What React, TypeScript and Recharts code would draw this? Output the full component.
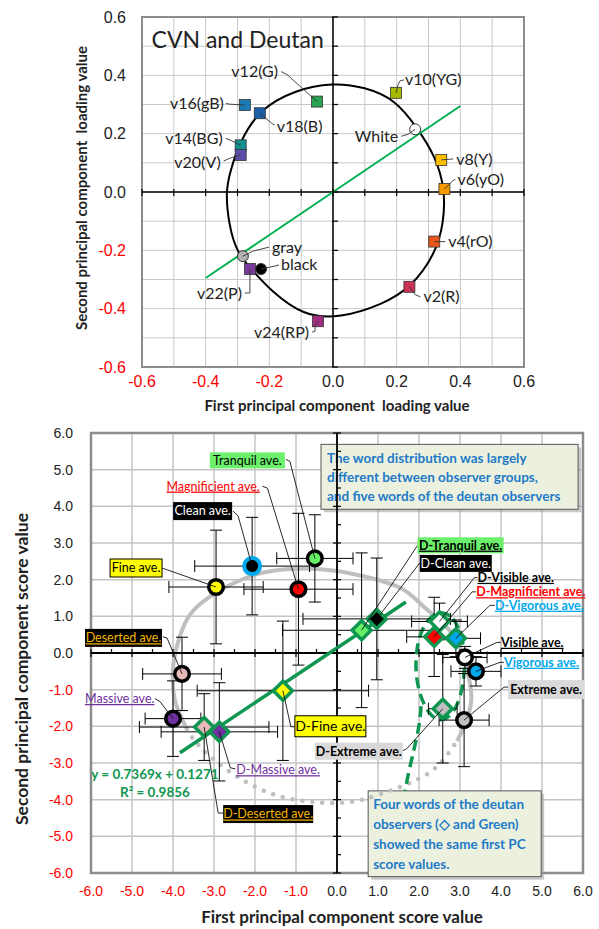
import React from 'react';
import {
  ComposedChart,
  Scatter,
  Line,
  XAxis,
  YAxis,
  CartesianGrid,
  ReferenceLine,
  ReferenceArea,
  ReferenceDot,
  ErrorBar,
  Label
} from 'recharts';

// ---------- top chart: loading values ----------
const loadingTicks = [-0.6, -0.5, -0.4, -0.3, -0.2, -0.1, 0, 0.1, 0.2, 0.3, 0.4, 0.5, 0.6];

const hueNames = ['v2(R)', 'v4(rO)', 'v6(yO)', 'v8(Y)', 'v10(YG)', 'v12(G)', 'v14(BG)', 'v16(gB)', 'v18(B)', 'v20(V)', 'v22(P)', 'v24(RP)'];
const hueX = [0.24, 0.318, 0.35, 0.34, 0.198, -0.05, -0.29, -0.277, -0.23, -0.29, -0.261, -0.047];
const hueY = [-0.325, -0.17, 0.01, 0.11, 0.34, 0.31, 0.16, 0.298, 0.27, 0.127, -0.264, -0.443];

const achroNames = ['White', 'gray', 'black'];
const achroX = [0.258, -0.283, -0.226];
const achroY = [0.215, -0.22, -0.264];

// hand-traced ring and the green line of the loading plot
const loadingRing = [
  [0.0, 0.375], [0.1, 0.36], [0.195, 0.318], [0.265, 0.22], [0.322, 0.122], [0.352, 0.01],
  [0.348, -0.106], [0.322, -0.212], [0.245, -0.328], [0.157, -0.385], [0.022, -0.433],
  [-0.094, -0.425], [-0.198, -0.335], [-0.243, -0.28], [-0.303, -0.21], [-0.328, -0.106],
  [-0.337, 0.0], [-0.324, 0.068], [-0.293, 0.172], [-0.232, 0.283], [-0.12, 0.35]
];
const loadingLine = [[-0.4, -0.295], [0.4, 0.295]];

// ---------- bottom chart: score values ----------
const scoreTicks = [-6, -5, -4, -3, -2, -1, 0, 1, 2, 3, 4, 5, 6];
const scoreHalfTicks = [-5.5, -4.5, -3.5, -2.5, -1.5, -0.5, 0.5, 1.5, 2.5, 3.5, 4.5, 5.5];

const cvnNames = ['Fine ave.', 'Clean ave.', 'Magnificient ave.', 'Tranquil ave.', 'Deserted ave.', 'Massive ave.', 'Visible ave.', 'Vigorous ave.', 'Extreme ave.'];
const cvnX = [-2.95, -2.07, -0.94, -0.54, -3.78, -4.0, 3.12, 3.39, 3.1];
const cvnY = [1.8, 2.37, 1.74, 2.58, -0.57, -1.79, -0.12, -0.5, -1.83];
const cvnErrX = [1.15, 1.4, 1.33, 0.93, 0.96, 0.68, 0.54, 0.61, 0.61];
const cvnErrY = [1.55, 1.33, 2.07, 1.19, 1.0, 1.03, 0.3, 0.4, 1.27];

const deutanNames = ['D-Fine ave.', 'D-Deserted ave.', 'D-Massive ave.', 'D-Tranquil ave.', 'D-Clean ave.', 'D-Visible ave.', 'D-Magnificient ave.', 'D-Vigorous ave.', 'D-Extreme ave.'];
const deutanX = [-1.32, -3.24, -2.87, 0.6, 0.97, 2.5, 2.37, 2.9, 2.58];
const deutanY = [-1.03, -2.02, -2.15, 0.62, 0.93, 0.86, 0.44, 0.4, -1.52];
const deutanErrX = [2.09, 1.58, 1.42, 1.93, 1.8, 0.68, 0.67, 0.6, 0.35];
const deutanErrY = [1.9, 0.91, 1.34, 2.11, 1.66, 0.5, 1.08, 0.5, 1.48];

// regression line ends, gray ring (solid top / dotted bottom), dashed green loop
const fitLine = [[-3.83, -2.72], [1.68, 1.39]];
const grayArc = [
  [-3.66, -2.07], [-3.95, -1.3], [-4.0, -0.4], [-3.85, 0.4], [-3.55, 1.1], [-2.9, 1.68],
  [-1.95, 2.15], [-0.98, 2.3], [-0.1, 2.25], [0.7, 2.08], [1.54, 1.78], [2.05, 1.33],
  [2.65, 0.73], [3.0, 0.15], [3.22, -0.7], [3.27, -1.35], [3.12, -1.95], [2.93, -2.4]
];
const grayDots = [
  [-3.66, -2.07], [-3.34, -2.56], [-2.61, -3.24], [-1.71, -3.79], [-0.9, -4.02], [-0.17, -4.09],
  [0.63, -4.0], [1.54, -3.65], [2.34, -3.19], [2.83, -2.56], [2.93, -2.4]
];
const greenLoop = [
  [2.55, 1.16], [2.84, 0.98], [3.05, 0.5], [3.13, -0.2], [3.08, -0.9], [2.92, -1.52], [2.6, -1.9],
  [2.28, -1.74], [2.03, -1.22], [1.9, -0.5], [1.95, 0.3], [2.18, 0.93]
];
const greenTail = [[2.05, -1.45], [1.98, -2.1], [1.78, -3.1], [1.66, -3.76]];

const topNote = ['The word distribution was largely', 'different between observer groups,', 'and five words of the deutan observers'];
const bottomNote = ['Four words of the deutan', 'observers (\u25C7 and Green)', 'showed the same first PC', 'score values.'];

// ---------- styles ----------
const LABEL_FONT = 'Lato, "Noto Sans", sans-serif';
const TICK_FONT = '"Liberation Sans", Arial, sans-serif';
const GREEN = '#0f9650';
const NOTE_BLUE = '#1f7ac8';

const hueColor: Record<string, string> = {
  'v2(R)': '#cc3355', 'v4(rO)': '#e8561c', 'v6(yO)': '#f59a00', 'v8(Y)': '#ffc000',
  'v10(YG)': '#a6b800', 'v12(G)': '#2aa450', 'v14(BG)': '#14908e', 'v16(gB)': '#1b7bb5',
  'v18(B)': '#1c5fa8', 'v20(V)': '#5b4ea6', 'v22(P)': '#7a3c9c', 'v24(RP)': '#a02d80'
};
const achroColor: Record<string, string> = { White: '#ffffff', gray: '#b0b0b0', black: '#000000' };

const wordFill: Record<string, string> = {
  Fine: '#ffff00', Clean: '#000000', Magnificient: '#ff0000', Tranquil: '#66f066',
  Deserted: '#e6b9b8', Massive: '#7030a0', Visible: '#ffffff', Vigorous: '#00a8ec', Extreme: '#bfbfbf'
};
const wordOf = (name: string) => name.replace('D-', '').replace(' ave.', '');

type Look = { bg?: string; edge?: string; color: string; weight: number; underline?: boolean; size?: number };
const looks: Record<string, Look> = {
  yellowBox: { bg: '#ffff00', edge: '#000', color: '#000', weight: 400 },
  yellowBoxBig: { bg: '#ffff00', edge: '#000', color: '#000', weight: 400, size: 14 },
  blackBox: { bg: '#000', color: '#fff', weight: 400 },
  goldOnBlack: { bg: '#000', color: '#f5b400', weight: 400, underline: true },
  greenBox: { bg: '#6cf06c', color: '#000', weight: 400 },
  greenBoxBold: { bg: '#6cf06c', color: '#000', weight: 700, underline: true },
  grayBoxBold: { bg: '#d9d9d9', color: '#000', weight: 700 },
  red: { color: '#ff0000', weight: 400, underline: true },
  redBold: { color: '#ff0000', weight: 700, underline: true },
  purple: { color: '#7030a0', weight: 400, underline: true },
  blueBold: { color: '#00a8ec', weight: 700, underline: true },
  blackBold: { color: '#000', weight: 700, underline: true }
};

// label placement relative to the marker, in pixels
type Note = { lead: number[][]; box?: number[]; at?: number[]; look: string };
const scoreNotes: Record<string, Note> = {
  'Fine ave.': { lead: [[-54, -19]], box: [-106, -28, 52, 18], look: 'yellowBox' },
  'Clean ave.': { lead: [[-14, -50], [-19, -55]], box: [-79, -64, 59, 18], look: 'blackBox' },
  'Magnificient ave.': { lead: [[-31, -101], [-36, -103]], at: [-132, -103], look: 'red' },
  'Tranquil ave.': { lead: [[-25, -97], [-29, -99]], box: [-105, -106, 75, 16], look: 'greenBox' },
  'Deserted ave.': { lead: [[-15, -36], [-19, -37]], box: [-97, -45, 77, 18], look: 'goldOnBlack' },
  'Massive ave.': { lead: [[-13, -17], [-18, -20]], at: [-88, -20], look: 'purple' },
  'D-Massive ave.': { lead: [[11, 36], [16, 37]], at: [17, 38], look: 'purple' },
  'D-Deserted ave.': { lead: [[14, 86], [19, 86]], box: [19, 78, 90, 18], look: 'goldOnBlack' },
  'D-Fine ave.': { lead: [[8, 36], [12, 36]], box: [12, 25, 71, 21], look: 'yellowBoxBig' },
  'D-Extreme ave.': { lead: [[-36, 40], [-40, 42]], box: [-128, 34, 88, 17], look: 'grayBoxBold' },
  'Extreme ave.': { lead: [[40, -33], [44, -33]], box: [44, -40, 76, 19], look: 'grayBoxBold' },
  'Vigorous ave.': { lead: [[24, -9], [28, -9]], at: [28, -9], look: 'blueBold' },
  'Visible ave.': { lead: [[32, -15], [36, -15]], at: [36, -15], look: 'blackBold' },
  'D-Vigorous ave.': { lead: [[34, -33], [39, -33]], at: [39, -33], look: 'blueBold' },
  'D-Magnificient ave.': { lead: [[38, -45], [42, -45]], at: [42, -45], look: 'redBold' },
  'D-Visible ave.': { lead: [[35, -44], [38, -44]], at: [38, -44], look: 'blackBold' },
  'D-Clean ave.': { lead: [[43, -56]], box: [43, -64, 72, 17], look: 'blackBox' },
  'D-Tranquil ave.': { lead: [[56, -85]], box: [56, -93, 86, 16], look: 'greenBoxBold' }
};

type TopNote = { lead: number[][]; at: number[]; anchor: 'start' | 'end' };
const loadingNotes: Record<string, TopNote> = {
  'v12(G)': { lead: [[-30, -27], [-36, -30]], at: [-39, -30], anchor: 'end' },
  'v16(gB)': { lead: [[-16, -1], [-19, -2]], at: [-21, -2], anchor: 'end' },
  'v18(B)': { lead: [[12, 10], [15, 12]], at: [17, 13], anchor: 'start' },
  'v14(BG)': { lead: [[-10, -5], [-15, -7]], at: [-18, -7], anchor: 'end' },
  'v20(V)': { lead: [[-10, 3], [-17, 6]], at: [-20, 7], anchor: 'end' },
  'v10(YG)': { lead: [[2, -8], [4, -12], [8, -13]], at: [9, -13], anchor: 'start' },
  White: { lead: [[-7, 5], [-14, 7]], at: [-17, 7], anchor: 'end' },
  'v8(Y)': { lead: [[12, -1]], at: [15, -1], anchor: 'start' },
  'v6(yO)': { lead: [[8, -8], [11, -10]], at: [13, -10], anchor: 'start' },
  'v4(rO)': { lead: [[11, 0]], at: [14, 0], anchor: 'start' },
  'v2(R)': { lead: [[6, 8], [11, 10]], at: [14, 10], anchor: 'start' },
  'v24(RP)': { lead: [[-3, 4], [-3, 10], [-6, 11]], at: [-9, 11], anchor: 'end' },
  'v22(P)': { lead: [[0, 24], [-5, 24]], at: [-8, 24], anchor: 'end' },
  gray: { lead: [[10, -5], [26, -9]], at: [29, -9], anchor: 'start' },
  black: { lead: [[14, -3], [18, -4]], at: [20, -5], anchor: 'start' }
};

// ---------- data tables ----------
const pairs = (pts: number[][]) => pts.map(([x, y]) => ({ x, y }));
const hueData = hueNames.map((name, i) => ({ name, x: hueX[i], y: hueY[i] }));
const achroData = achroNames.map((name, i) => ({ name, x: achroX[i], y: achroY[i] }));
const cvnData = cvnNames.map((name, i) => ({ name, x: cvnX[i], y: cvnY[i], ex: cvnErrX[i], ey: cvnErrY[i] }));
const deutanData = deutanNames.map((name, i) => ({ name, x: deutanX[i], y: deutanY[i], ex: deutanErrX[i], ey: deutanErrY[i] }));

const loadingXMarks = loadingTicks.map((t) => ({ x: t, y: 0 }));
const loadingYMarks = loadingTicks.map((t) => ({ x: 0, y: t }));
const scoreXMarks = [...scoreTicks.map((t) => ({ x: t, y: 0, major: true })), ...scoreHalfTicks.map((t) => ({ x: t, y: 0, major: false }))];
const scoreYMarks = [...scoreTicks.map((t) => ({ x: 0, y: t, major: true })), ...scoreHalfTicks.map((t) => ({ x: 0, y: t, major: false }))];

// ---------- small renderers ----------
const tickColor = (v: number) => (v < 0 ? '#ff0000' : '#222');
const evenTenth = (v: number) => Math.round(v * 10) % 2 === 0;

const TickX = ({ x, y, payload, size, show }: any) => {
  const v = payload.value;
  if (show && !show(v)) return <g />;
  return (
    <text x={x} y={y} dy="0.71em" textAnchor="middle" fontFamily={TICK_FONT} fontSize={size} fill={tickColor(v)}>
      {v.toFixed(1)}
    </text>
  );
};
const TickY = ({ x, y, payload, size, show }: any) => {
  const v = payload.value;
  if (show && !show(v)) return <g />;
  return (
    <text x={x} y={y} dy="0.35em" textAnchor="end" fontFamily={TICK_FONT} fontSize={size} fill={tickColor(v)}>
      {v.toFixed(1)}
    </text>
  );
};

const leadPath = (cx: number, cy: number, lead: number[][]) =>
  [[0, 0], ...lead].map(([dx, dy]) => `${cx + dx},${cy + dy}`).join(' ');

const Square = ({ cx, cy, payload }: any) => (
  <rect x={cx - 5.5} y={cy - 5.5} width={11} height={11} fill={hueColor[payload.name]} stroke="#333" strokeWidth={0.8} />
);
const Dot = ({ cx, cy, payload }: any) => (
  <circle cx={cx} cy={cy} r={5.5} fill={achroColor[payload.name]} stroke="#333" strokeWidth={1} />
);

const LoadingLabel = ({ cx, cy, payload }: any) => {
  const n = loadingNotes[payload.name];
  if (!n) return <g />;
  return (
    <g>
      <polyline points={leadPath(cx, cy, n.lead)} fill="none" stroke="#333" strokeWidth={0.9} />
      <text x={cx + n.at[0]} y={cy + n.at[1]} dy="0.35em" textAnchor={n.anchor} fontFamily={LABEL_FONT} fontSize={16} fill="#222">
        {payload.name}
      </text>
    </g>
  );
};

const Ring = ({ cx, cy, payload }: any) => {
  const w = wordOf(payload.name);
  const blue = w === 'Clean';
  return (
    <circle cx={cx} cy={cy} r={blue ? 8 : 7.3} fill={wordFill[w]} stroke={blue ? '#00a8ec' : '#000'} strokeWidth={blue ? 4 : 3.5} />
  );
};
const Diamond = ({ cx, cy, payload }: any) => {
  const s = 9.5;
  return (
    <path
      d={`M${cx},${cy - s} L${cx + s},${cy} L${cx},${cy + s} L${cx - s},${cy} Z`}
      fill={wordFill[wordOf(payload.name)]}
      stroke={GREEN}
      strokeWidth={3.5}
    />
  );
};

const ScoreLabel = ({ cx, cy, payload }: any) => {
  const n = scoreNotes[payload.name];
  if (!n) return <g />;
  const look = looks[n.look];
  const textProps = {
    fontFamily: LABEL_FONT,
    fontSize: look.size || 12.5,
    fontWeight: look.weight,
    fill: look.color,
    style: look.underline ? { textDecoration: 'underline' } : undefined
  };
  const leader = <polyline points={leadPath(cx, cy, n.lead)} fill="none" stroke="#111" strokeWidth={0.9} />;
  if (n.box) {
    const [bx, by, bw, bh] = n.box;
    return (
      <g>
        {leader}
        <rect x={cx + bx} y={cy + by} width={bw} height={bh} fill={look.bg} stroke={look.edge || 'none'} strokeWidth={1} />
        <text x={cx + bx + bw / 2} y={cy + by + bh / 2} dy="0.35em" textAnchor="middle" {...textProps}>
          {payload.name}
        </text>
      </g>
    );
  }
  const at = n.at || [0, 0];
  return (
    <g>
      {leader}
      <text x={cx + at[0]} y={cy + at[1]} dy="0.35em" textAnchor="start" {...textProps}>
        {payload.name}
      </text>
    </g>
  );
};

const TextBox = ({ x, y, width, height, lines, first, step, pad }: any) => (
  <g>
    <rect x={x + 3} y={y + 3} width={width} height={height} fill="#9a9a9a" fillOpacity={0.55} />
    <rect x={x} y={y} width={width} height={height} fill="#ebf1de" stroke="#555" strokeWidth={1} />
    {lines.map((t: string, i: number) => (
      <text key={i} x={x + pad} y={y + first + i * step} dy="0.35em" fontFamily={LABEL_FONT} fontSize={13.5} fontWeight={700} fill={NOTE_BLUE}>
        {t}
      </text>
    ))}
  </g>
);

const Empty = () => <g />;

// ---------- charts ----------
const LoadingChart = () => (
  <ComposedChart width={599} height={420} margin={{ top: 17, right: 75, bottom: 13, left: 0 }}>
    <CartesianGrid stroke="#c8c8c8" strokeWidth={1} />
    <XAxis
      type="number"
      dataKey="x"
      domain={[-0.6, 0.6]}
      ticks={loadingTicks}
      interval={0}
      height={40}
      axisLine={false}
      tickLine={false}
      tickMargin={3}
      tick={(p: any) => <TickX {...p} size={16} show={evenTenth} />}
    >
      <Label
        content={({ viewBox }: any) => (
          <text x={viewBox.x + viewBox.width / 2 + 4} y={viewBox.y + 39} dy="0.35em" textAnchor="middle" fontFamily={LABEL_FONT} fontSize={15} fontWeight={700} fill="#222" style={{ whiteSpace: 'pre' }}>
            {'First principal component  loading value'}
          </text>
        )}
      />
    </XAxis>
    <YAxis
      type="number"
      dataKey="y"
      domain={[-0.6, 0.6]}
      ticks={loadingTicks}
      interval={0}
      width={142}
      axisLine={false}
      tickLine={false}
      tickMargin={10}
      tick={(p: any) => <TickY {...p} size={16} show={evenTenth} />}
    >
      <Label
        content={({ viewBox }: any) => {
          const x = viewBox.x + 82;
          const y = viewBox.y + viewBox.height / 2 - 4;
          return (
            <text x={x} y={y} dy="0.35em" textAnchor="middle" transform={`rotate(-90 ${x} ${y})`} fontFamily={LABEL_FONT} fontSize={15} fontWeight={700} fill="#222" style={{ whiteSpace: 'pre' }}>
              {'Second principal component  loading value'}
            </text>
          );
        }}
      />
    </YAxis>
    <ReferenceArea x1={-0.6} x2={0.6} y1={-0.6} y2={0.6} fill="none" fillOpacity={0} stroke="#8c8c8c" strokeWidth={2} />
    <ReferenceLine x={0} stroke="#000" strokeWidth={1.5} />
    <ReferenceLine y={0} stroke="#000" strokeWidth={1.5} />
    <Scatter data={loadingXMarks} isAnimationActive={false} shape={({ cx, cy }: any) => <line x1={cx} x2={cx} y1={cy - 3} y2={cy + 4} stroke="#000" strokeWidth={1.2} />} />
    <Scatter data={loadingYMarks} isAnimationActive={false} shape={({ cx, cy }: any) => <line x1={cx - 1} x2={cx + 5} y1={cy} y2={cy} stroke="#000" strokeWidth={1.2} />} />
    <Line data={pairs(loadingRing)} dataKey="y" type="basisClosed" stroke="#000" strokeWidth={2} dot={false} activeDot={false} isAnimationActive={false} />
    <Line data={pairs(loadingLine)} dataKey="y" type="linear" stroke="#00b050" strokeWidth={2} dot={false} activeDot={false} isAnimationActive={false} />
    <Scatter data={hueData} shape={Square} isAnimationActive={false} />
    <Scatter data={achroData} shape={Dot} isAnimationActive={false} />
    <Scatter data={[...hueData, ...achroData]} shape={LoadingLabel} isAnimationActive={false} />
    <ReferenceDot
      x={-0.57}
      y={0.52}
      r={0}
      ifOverflow="visible"
      shape={({ cx, cy }: any) => (
        <text x={cx} y={cy} dy="0.35em" fontFamily={LABEL_FONT} fontSize={23} fill="#222">
          CVN and Deutan
        </text>
      )}
    />
  </ComposedChart>
);

const ScoreChart = () => (
  <ComposedChart width={599} height={509} margin={{ top: 13, right: 16, bottom: 0, left: 0 }}>
    <CartesianGrid stroke="#c4c4c4" strokeWidth={1.5} />
    <XAxis
      type="number"
      dataKey="x"
      domain={[-6, 6]}
      ticks={scoreTicks}
      interval={0}
      height={56}
      axisLine={false}
      tickLine={false}
      tickMargin={7}
      tick={(p: any) => <TickX {...p} size={14} />}
    >
      <Label
        content={({ viewBox }: any) => (
          <text x={viewBox.x + viewBox.width / 2 + 5} y={viewBox.y + 44} dy="0.35em" textAnchor="middle" fontFamily={LABEL_FONT} fontSize={17} fontWeight={700} fill="#222">
            First principal component score value
          </text>
        )}
      />
    </XAxis>
    <YAxis
      type="number"
      dataKey="y"
      domain={[-6, 6]}
      ticks={scoreTicks}
      interval={0}
      width={91}
      axisLine={false}
      tickLine={false}
      tickMargin={12}
      tick={(p: any) => <TickY {...p} size={14} />}
    >
      <Label
        content={({ viewBox }: any) => {
          const x = viewBox.x + 22;
          const y = viewBox.y + viewBox.height / 2 + 16;
          return (
            <text x={x} y={y} dy="0.35em" textAnchor="middle" transform={`rotate(-90 ${x} ${y})`} fontFamily={LABEL_FONT} fontSize={17.5} fontWeight={700} fill="#222">
              Second principal component score value
            </text>
          );
        }}
      />
    </YAxis>
    <ReferenceArea x1={-6} x2={6} y1={-6} y2={6} fill="none" fillOpacity={0} stroke="#8c8c8c" strokeWidth={2.5} />
    <Line data={pairs(grayArc)} dataKey="y" type="natural" stroke="#bfbfbf" strokeWidth={4} dot={false} activeDot={false} isAnimationActive={false} />
    <Line data={pairs(grayDots)} dataKey="y" type="natural" stroke="#bfbfbf" strokeWidth={4.5} strokeDasharray="0 10" strokeLinecap="round" dot={false} activeDot={false} isAnimationActive={false} />
    <ReferenceLine x={0} stroke="#000" strokeWidth={1.8} />
    <ReferenceLine y={0} stroke="#000" strokeWidth={1.8} />
    <Scatter
      data={scoreXMarks}
      isAnimationActive={false}
      shape={({ cx, cy, payload }: any) => <line x1={cx} x2={cx} y1={cy - 4} y2={payload.major ? cy + 4 : cy} stroke="#000" strokeWidth={1.2} />}
    />
    <Scatter
      data={scoreYMarks}
      isAnimationActive={false}
      shape={({ cx, cy, payload }: any) => <line x1={payload.major ? cx - 4 : cx} x2={cx + 4} y1={cy} y2={cy} stroke="#000" strokeWidth={1.2} />}
    />
    <Line data={pairs(fitLine)} dataKey="y" type="linear" stroke={GREEN} strokeWidth={3.5} dot={false} activeDot={false} isAnimationActive={false} />
    <Line data={pairs(greenLoop)} dataKey="y" type="basisClosed" stroke={GREEN} strokeWidth={3.5} strokeDasharray="11 6" dot={false} activeDot={false} isAnimationActive={false} />
    <Line data={pairs(greenTail)} dataKey="y" type="natural" stroke={GREEN} strokeWidth={3.5} strokeDasharray="11 6" dot={false} activeDot={false} isAnimationActive={false} />
    <Scatter data={cvnData} shape={Empty} isAnimationActive={false}>
      <ErrorBar dataKey="ex" direction="x" width={6} stroke="#000" strokeWidth={1} isAnimationActive={false} />
      <ErrorBar dataKey="ey" direction="y" width={6} stroke="#000" strokeWidth={1} isAnimationActive={false} />
    </Scatter>
    <Scatter data={deutanData} shape={Empty} isAnimationActive={false}>
      <ErrorBar dataKey="ex" direction="x" width={6} stroke="#000" strokeWidth={1} isAnimationActive={false} />
      <ErrorBar dataKey="ey" direction="y" width={6} stroke="#000" strokeWidth={1} isAnimationActive={false} />
    </Scatter>
    <Scatter data={cvnData} shape={Ring} isAnimationActive={false} />
    <Scatter data={deutanData} shape={Diamond} isAnimationActive={false} />
    <Scatter data={[...cvnData, ...deutanData]} shape={ScoreLabel} isAnimationActive={false} />
    <ReferenceDot
      x={-4.44}
      y={-3.32}
      r={0}
      ifOverflow="visible"
      shape={({ cx, cy }: any) => (
        <g fontFamily={LABEL_FONT} fontSize={13.5} fontWeight={700} fill={GREEN} textAnchor="middle">
          <text x={cx} y={cy} dy="0.35em">y = 0.7369x + 0.1271</text>
          <text x={cx} y={cy + 18} dy="0.35em">R² = 0.9856</text>
        </g>
      )}
    />
    <ReferenceArea
      x1={-0.39}
      x2={5.88}
      y1={3.92}
      y2={5.69}
      ifOverflow="visible"
      shape={(p: any) => <TextBox {...p} lines={topNote} first={14} step={19} pad={6} />}
    />
    <ReferenceArea
      x1={0.76}
      x2={4.98}
      y1={-6.1}
      y2={-3.76}
      ifOverflow="visible"
      shape={(p: any) => <TextBox {...p} lines={bottomNote} first={13} step={20} pad={5} />}
    />
  </ComposedChart>
);

const App = () => (
  <div style={{ position: 'absolute', left: 0, top: 0, width: 599, height: 929, background: '#fff' }}>
    <LoadingChart />
    <ScoreChart />
  </div>
);

export default App;
